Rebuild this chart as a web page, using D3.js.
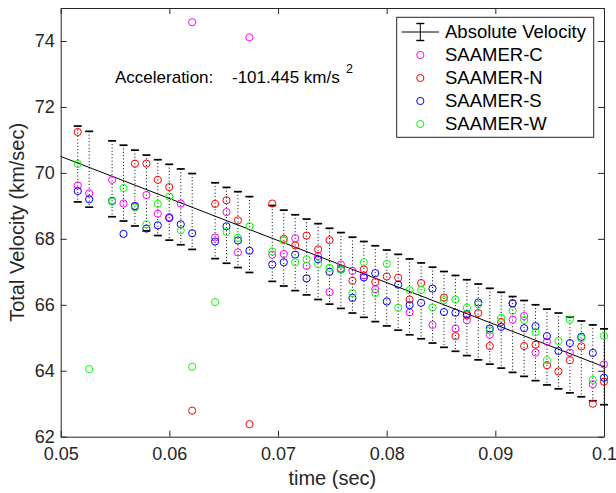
<!DOCTYPE html>
<html>
<head>
<meta charset="utf-8">
<script src="https://cdn.jsdelivr.net/npm/d3@7"></script>
<style>
  body { margin: 0; background: #fff; }
  svg { display: block; font-family: "Liberation Sans", Arial, Helvetica, sans-serif; }
</style>
</head>
<body>
<svg id="chart" width="616" height="493"></svg>
<script>
// sample times (sec)
const times = [0.05157, 0.05262, 0.05473, 0.05578, 0.05683, 0.05789, 0.05894, 0.05999, 0.06105, 0.06210,
  0.06421, 0.06526, 0.06631, 0.06737, 0.06947, 0.07053, 0.07158, 0.07263, 0.07369, 0.07474,
  0.07579, 0.07685, 0.07790, 0.07895, 0.08001, 0.08106, 0.08211, 0.08317, 0.08422, 0.08527,
  0.08633, 0.08738, 0.08843, 0.08949, 0.09054, 0.09159, 0.09265, 0.09370, 0.09475, 0.09581,
  0.09686, 0.09791, 0.09897, 0.1];

// absolute velocity (centre of error bars) and half-width of the bars
const absVel = [70.27, 70.11, 69.82, 69.69, 69.54, 69.39, 69.25, 69.11, 68.97, 68.83,
  68.55, 68.41, 68.28, 68.13, 67.86, 67.72, 67.58, 67.45, 67.31, 67.17,
  67.04, 66.90, 66.77, 66.64, 66.51, 66.38, 66.24, 66.12, 65.99, 65.86,
  65.74, 65.61, 65.48, 65.35, 65.23, 65.10, 64.98, 64.85, 64.72, 64.60,
  64.48, 64.36, 64.24, 64.12];
const absErr = 1.15;

// fitted line
const fitTime = [0.05, 0.1];
const fitVel = [70.5, 64.12];

// station velocities (null = not shown)
const saamerC = [69.62, 69.38, 69.79, 69.07, 69.00, 69.33, 68.76, 68.66, 69.07, 74.57,
  68.04, 68.81, 67.59, 74.11, 67.52, 67.54, 68.02, 67.18, 67.48, 66.38,
  67.22, 67.03, 66.89, 66.47, null, null, 65.77, null, 65.39, null,
  65.28, 65.53, null, 65.09, null, 65.55, 65.66, 64.55, 64.88, null,
  64.55, null, 63.59, 64.19];
const saamerN = [71.24, null, null, null, 70.28, 70.28, 69.79, 69.57, null, 62.79,
  69.06, 69.17, 68.56, 62.38, 69.07, 68.00, 67.80, 68.10, 67.68, 67.96,
  67.10, 66.73, 67.07, 66.69, 66.86, 66.82, 66.16, 66.66, null, 66.22,
  65.05, 65.68, 65.75, 64.75, 65.48, 66.05, 64.75, 64.79, 64.17, 63.98,
  64.32, 64.74, 63.00, 63.67];
const saamerS = [69.45, 69.20, 69.15, 68.15, 68.99, 68.31, 68.41, 68.63, 68.44, 68.17,
  67.92, 68.38, 67.95, 67.64, 67.22, 67.29, 67.52, 66.80, 67.38, 67.00,
  67.07, 66.21, 66.83, 66.96, 66.10, 66.61, 65.99, 66.06, 66.49, 65.78,
  65.76, 65.72, 66.07, 65.28, 65.33, 66.04, 65.29, 65.35, 65.05, 64.60,
  64.84, 65.03, 64.54, 63.79];
const saamerW = [70.27, 64.05, 69.13, 69.54, 68.95, 68.44, 69.06, 69.28, 68.26, 64.12,
  66.08, 68.21, 68.03, 68.38, 67.62, 67.95, 67.29, 67.38, 67.23, 67.12,
  67.07, 66.35, 67.29, 66.36, 67.24, 65.91, 66.44, 66.45, 65.92, 66.14,
  66.16, 65.91, 66.01, 65.22, 65.60, 65.82, 65.54, 65.17, 64.32, 64.90,
  65.55, 64.99, 63.72, 65.06];

const seriesNames = ['SAAMER-C', 'SAAMER-N', 'SAAMER-S', 'SAAMER-W'];
const seriesColors = ['#ff00ff', '#ff0000', '#0000ff', '#00ff00'];
const seriesValues = [saamerC, saamerN, saamerS, saamerW];

const xTicks = [0.05, 0.06, 0.07, 0.08, 0.09, 0.1];
const xTickLabels = ['0.05', '0.06', '0.07', '0.08', '0.09', '0.1'];
const yTicks = [62, 64, 66, 68, 70, 72, 74];

const plotLeft = 60.7, plotRight = 604, plotTop = 8, plotBottom = 436.7;
const axisColor = '#262626';

const svg = d3.select('#chart');

const x = d3.scaleLinear().domain([0.05, 0.1]).range([plotLeft, plotRight]);
const y = d3.scaleLinear().domain([62, 75]).range([plotBottom, plotTop]);

// axes (ticks point inside, box on)
function styleAxis(g) {
  g.selectAll('path.domain').attr('stroke', axisColor);
  g.selectAll('.tick line').attr('stroke', axisColor);
  g.selectAll('.tick text').attr('fill', axisColor).attr('font-size', 18)
    .attr('font-family', '"Liberation Sans", Arial, sans-serif');
}

svg.append('g')
  .attr('transform', `translate(0,${plotBottom})`)
  .call(d3.axisBottom(x).tickValues(xTicks).tickFormat((d, i) => xTickLabels[i])
    .tickSizeInner(-6).tickSizeOuter(0).tickPadding(11))
  .call(styleAxis);

svg.append('g')
  .attr('transform', `translate(0,${plotTop})`)
  .call(d3.axisTop(x).tickValues(xTicks).tickFormat('')
    .tickSizeInner(-6).tickSizeOuter(0))
  .call(styleAxis);

svg.append('g')
  .attr('transform', `translate(${plotLeft},0)`)
  .call(d3.axisLeft(y).tickValues(yTicks).tickFormat(d3.format('d'))
    .tickSizeInner(-6).tickSizeOuter(0).tickPadding(6))
  .call(styleAxis);

svg.append('g')
  .attr('transform', `translate(${plotRight},0)`)
  .call(d3.axisRight(y).tickValues(yTicks).tickFormat('')
    .tickSizeInner(-6).tickSizeOuter(0))
  .call(styleAxis);

// axis labels
svg.append('text')
  .attr('x', (plotLeft + plotRight) / 2)
  .attr('y', 485)
  .attr('text-anchor', 'middle')
  .attr('font-size', 20)
  .attr('fill', axisColor)
  .text('time (sec)');

svg.append('text')
  .attr('transform', `translate(24,${(plotTop + plotBottom) / 2}) rotate(-90)`)
  .attr('text-anchor', 'middle')
  .attr('font-size', 20)
  .attr('fill', axisColor)
  .text('Total Velocity (km/sec)');

const plot = svg.append('g');

// error bars
const bars = plot.append('g');
times.forEach((t, i) => {
  const cx = x(t);
  bars.append('line')
    .attr('x1', cx).attr('x2', cx)
    .attr('y1', y(absVel[i] + absErr)).attr('y2', y(absVel[i] - absErr))
    .attr('stroke', '#000').attr('stroke-width', 1)
    .attr('stroke-dasharray', '1,2.3');
  [absVel[i] + absErr, absVel[i] - absErr].forEach((v) => {
    bars.append('line')
      .attr('x1', cx - 4).attr('x2', cx + 4)
      .attr('y1', y(v)).attr('y2', y(v))
      .attr('stroke', '#000').attr('stroke-width', 1.7);
  });
});

// fit line
plot.append('path')
  .datum(fitTime.map((t, i) => [t, fitVel[i]]))
  .attr('fill', 'none')
  .attr('stroke', '#000')
  .attr('stroke-width', 1)
  .attr('d', d3.line().x((d) => x(d[0])).y((d) => y(d[1])));

// station markers
seriesValues.forEach((vals, s) => {
  plot.append('g')
    .selectAll('circle')
    .data(times.map((t, i) => ({ t, v: vals[i] })).filter((d) => d.v != null))
    .enter()
    .append('circle')
    .attr('cx', (d) => x(d.t))
    .attr('cy', (d) => y(d.v))
    .attr('r', 3.6)
    .attr('fill', 'none')
    .attr('stroke', seriesColors[s])
    .attr('stroke-width', 1);
});

// annotation
const note = svg.append('text')
  .attr('y', 83)
  .attr('font-size', 17)
  .attr('fill', '#000');
note.append('tspan').attr('x', 115).text('Acceleration:');
note.append('tspan').attr('x', 232).text('-101.445 km/s');
svg.append('text')
  .attr('x', 346).attr('y', 73)
  .attr('font-size', 12.5)
  .attr('fill', '#000')
  .text('2');

// legend
const legend = svg.append('g');
legend.append('rect')
  .attr('x', 396.7).attr('y', 17.3)
  .attr('width', 197).attr('height', 120)
  .attr('fill', '#fff')
  .attr('stroke', axisColor)
  .attr('stroke-width', 1);

const rowY = [32, 55, 78, 101, 124];
const iconX = 420.3;
legend.append('line')
  .attr('x1', 401.7).attr('x2', 439)
  .attr('y1', rowY[0]).attr('y2', rowY[0])
  .attr('stroke', '#000');
legend.append('line')
  .attr('x1', iconX).attr('x2', iconX)
  .attr('y1', rowY[0] - 8.5).attr('y2', rowY[0] + 8.5)
  .attr('stroke', '#000');
[rowY[0] - 8.5, rowY[0] + 8.5].forEach((yy) => {
  legend.append('line')
    .attr('x1', iconX - 4).attr('x2', iconX + 4)
    .attr('y1', yy).attr('y2', yy)
    .attr('stroke', '#000').attr('stroke-width', 1.4);
});

const legendLabels = ['Absolute Velocity'].concat(seriesNames);
legendLabels.forEach((name, i) => {
  legend.append('text')
    .attr('x', 445)
    .attr('y', rowY[i])
    .attr('dy', '0.35em')
    .attr('font-size', 18.5)
    .attr('fill', '#000')
    .text(name);
  if (i > 0) {
    legend.append('circle')
      .attr('cx', iconX).attr('cy', rowY[i])
      .attr('r', 3.6)
      .attr('fill', 'none')
      .attr('stroke', seriesColors[i - 1]);
  }
});
</script>
</body>
</html>
